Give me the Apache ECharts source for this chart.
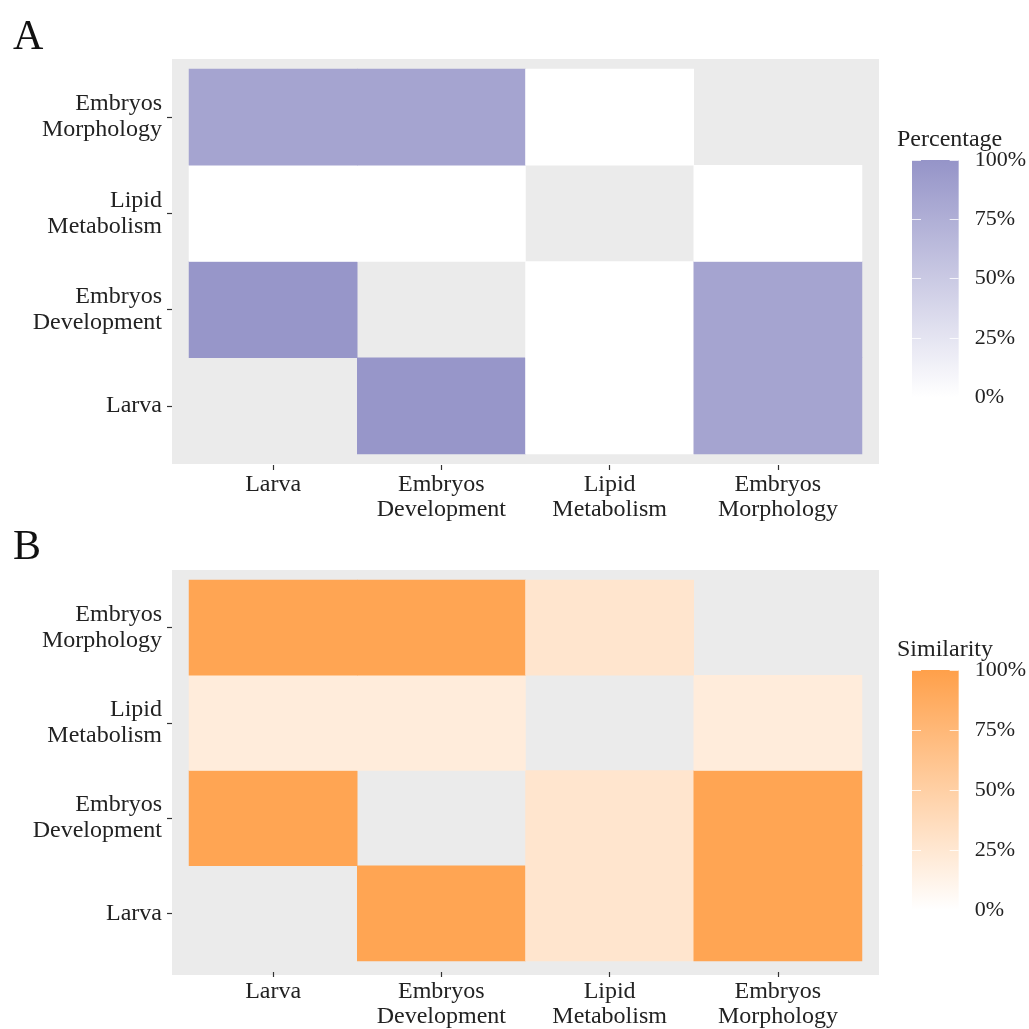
<!DOCTYPE html>
<html>
<head>
<meta charset="utf-8">
<script src="https://cdn.jsdelivr.net/npm/echarts@6/dist/echarts.min.js"></script>
<style>
  html, body { margin: 0; padding: 0; background: #ffffff; }
  #chart { width: 1029px; height: 1029px; }
</style>
</head>
<body>
<div id="chart"></div>
<script>
// Categories shared by both matrices (x: left→right, y: bottom→top)
const categories = ['Larva', 'Embryos\nDevelopment', 'Lipid\nMetabolism', 'Embryos\nMorphology'];

// Legend tick values (percent)
const legendTicks = [0, 25, 50, 75, 100];

// Panel A – Percentage, [xIndex, yIndex, value]; diagonal pairs are absent
const percentageCells = [
  [1, 0, 98], [2, 0, 0], [3, 0, 85],
  [0, 1, 98], [2, 1, 0], [3, 1, 85],
  [0, 2, 0], [1, 2, 0], [3, 2, 0],
  [0, 3, 85], [1, 3, 85], [2, 3, 0]
];

// Panel B – Similarity, [xIndex, yIndex, value]
const similarityCells = [
  [1, 0, 95], [2, 0, 27], [3, 0, 95],
  [0, 1, 95], [2, 1, 27], [3, 1, 95],
  [0, 2, 20], [1, 2, 20], [3, 2, 20],
  [0, 3, 95], [1, 3, 95], [2, 3, 27]
];

const purple = '#9594C8';
const orange = '#FFA04A';
const serif = '"Liberation Serif", "DejaVu Serif", serif';
const textColor = '#222222';
const panelGrey = '#EBEBEB';

const chart = echarts.init(document.getElementById('chart'), null, { renderer: 'canvas' });

// Panel geometry
const panels = [
  { outerTop: 59, innerTop: 69 },
  { outerTop: 570, innerTop: 580 }
];
const outerLeft = 172, outerWidth = 707, outerHeight = 405;
const innerLeft = 189, innerWidth = 673, innerHeight = 385;

// Colourbar geometry
const bars = [
  { top: 160, height: 237 },
  { top: 670, height: 240 }
];
const barLeft = 912, barWidth = 48;

const grids = [];
const xAxes = [];
const yAxes = [];
const series = [];

panels.forEach((p, i) => {
  // grey panel background and the heatmap plotting area inside it
  grids.push({
    left: outerLeft, top: p.outerTop, width: outerWidth, height: outerHeight,
    show: true, backgroundColor: panelGrey, borderWidth: 0
  });
  grids.push({
    left: innerLeft, top: p.innerTop, width: innerWidth, height: innerHeight,
    show: false
  });
  const bgIdx = grids.length - 2;
  const plotIdx = grids.length - 1;

  xAxes.push({ gridIndex: bgIdx, type: 'category', data: ['a'], show: false });
  yAxes.push({ gridIndex: bgIdx, type: 'category', data: ['a'], show: false });

  xAxes.push({
    gridIndex: plotIdx, type: 'category', data: categories,
    offset: 11,
    axisLine: { show: false },
    axisTick: { show: true, alignWithLabel: true, length: 5, lineStyle: { color: '#333333', width: 1.2 } },
    axisLabel: {
      margin: 7, interval: 0, fontFamily: serif, fontSize: 24, lineHeight: 25,
      color: textColor, align: 'center'
    },
    splitLine: { show: false }
  });
  yAxes.push({
    gridIndex: plotIdx, type: 'category', data: categories,
    offset: 17,
    axisLine: { show: false },
    axisTick: { show: true, alignWithLabel: true, length: 5, lineStyle: { color: '#333333', width: 1.2 } },
    axisLabel: {
      margin: 10, interval: 0, fontFamily: serif, fontSize: 24, lineHeight: 26,
      color: textColor, align: 'right'
    },
    splitLine: { show: false }
  });

  series.push({
    type: 'heatmap',
    xAxisIndex: xAxes.length - 1,
    yAxisIndex: yAxes.length - 1,
    data: i === 0 ? percentageCells : similarityCells,
    itemStyle: { borderWidth: 0 },
    emphasis: { disabled: true },
    silent: true
  });
});

// Colourbars drawn as a single full-height bar on a 0–100 scale
bars.forEach((b, i) => {
  grids.push({ left: barLeft, top: b.top, width: barWidth, height: b.height, show: false });
  const gi = grids.length - 1;
  xAxes.push({ gridIndex: gi, type: 'category', data: ['scale'], show: false });
  const tickStyle = { color: 'rgba(255,255,255,0.8)', width: 1 };
  // right axis: labels + short inner ticks
  yAxes.push({
    gridIndex: gi, type: 'value', position: 'right', min: 0, max: 100, interval: 25, z: 5,
    axisLine: { show: false },
    axisTick: { show: true, inside: true, length: 9, lineStyle: tickStyle },
    axisLabel: {
      show: true, margin: 16, fontFamily: serif, fontSize: 22, color: textColor,
      formatter: v => legendTicks.indexOf(v) >= 0 ? v + '%' : ''
    },
    splitLine: { show: false }
  });
  const rightIdx = yAxes.length - 1;
  // left axis: short inner ticks only
  yAxes.push({
    gridIndex: gi, type: 'value', position: 'left', min: 0, max: 100, interval: 25, z: 5,
    axisLine: { show: false },
    axisTick: { show: true, inside: true, length: 9, lineStyle: tickStyle },
    axisLabel: { show: false },
    splitLine: { show: false }
  });
  series.push({
    type: 'bar',
    xAxisIndex: xAxes.length - 1,
    yAxisIndex: rightIdx,
    barWidth: '100%',
    data: [100],
    silent: true,
    itemStyle: {
      color: new echarts.graphic.LinearGradient(0, 0, 0, 1, [
        { offset: 0, color: i === 0 ? purple : orange },
        { offset: 1, color: '#FFFFFF' }
      ])
    }
  });
});

const option = {
  backgroundColor: '#ffffff',
  animation: false,
  title: [
    { text: 'A', left: 8, top: 12, textStyle: { fontFamily: serif, fontSize: 42, fontWeight: 'normal', color: '#111111' } },
    { text: 'B', left: 8, top: 522, textStyle: { fontFamily: serif, fontSize: 42, fontWeight: 'normal', color: '#111111' } },
    { text: 'Percentage', left: 892, top: 123, textStyle: { fontFamily: serif, fontSize: 24, fontWeight: 'normal', color: textColor } },
    { text: 'Similarity', left: 892, top: 633, textStyle: { fontFamily: serif, fontSize: 24, fontWeight: 'normal', color: textColor } }
  ],
  grid: grids,
  xAxis: xAxes,
  yAxis: yAxes,
  visualMap: [
    { type: 'continuous', show: false, min: 0, max: 100, seriesIndex: 0, inRange: { color: ['#FFFFFF', purple] } },
    { type: 'continuous', show: false, min: 0, max: 100, seriesIndex: 1, inRange: { color: ['#FFFFFF', orange] } }
  ],
  series: series
};

chart.setOption(option);
</script>
</body>
</html>
